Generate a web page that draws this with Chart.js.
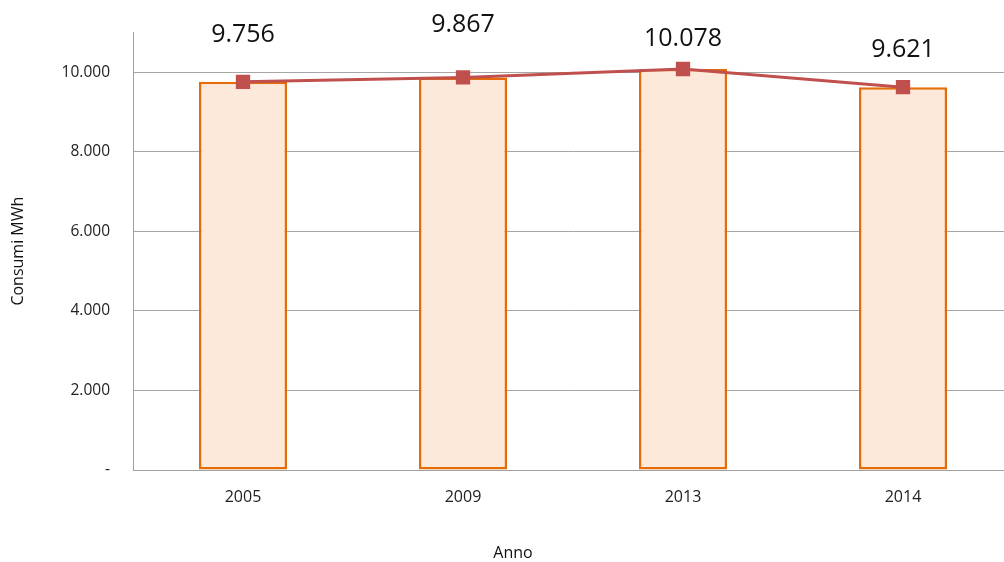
<!DOCTYPE html>
<html>
<head>
<meta charset="utf-8">
<script src="https://cdn.jsdelivr.net/npm/chart.js@4"></script>
<style>
  html, body { margin: 0; padding: 0; background: #fff; overflow: hidden; }
  #wrap { width: 1024px; height: 562px; position: relative; }
</style>
</head>
<body>
<div id="wrap"><canvas id="chart"></canvas></div>
<script>
  var years = ['2005', '2009', '2013', '2014'];
  var consumi = [9756, 9867, 10078, 9621];
  var yTicks = [0, 2000, 4000, 6000, 8000, 10000];
  var xTitle = 'Anno';
  var yTitle = 'Consumi MWh';

  var FONT = "'Open Sans', sans-serif";

  function fmt(v) {
    if (v === 0) return '-';
    return v.toString().replace(/\B(?=(\d{3})+(?!\d))/g, '.');
  }

  // value labels above the markers + x axis title (not centred on the plot in the original)
  var extraText = {
    id: 'extraText',
    afterDatasetsDraw: function(chart) {
      var ctx = chart.ctx;
      var meta = chart.getDatasetMeta(1);
      var nudge = [47, 53, 30, 37];
      ctx.save();
      ctx.font = '25px ' + FONT;
      ctx.fillStyle = '#111';
      ctx.textAlign = 'center';
      ctx.textBaseline = 'middle';
      meta.data.forEach(function(pt, i) {
        ctx.fillText(fmt(consumi[i]), pt.x, pt.y - nudge[i]);
      });
      ctx.font = '16px ' + FONT;
      ctx.fillText(xTitle, 513, 553);
      ctx.restore();
    }
  };

  new Chart(document.getElementById('chart'), {
    data: {
      labels: years,
      datasets: [{
        type: 'bar',
        data: consumi,
        backgroundColor: '#FDE9D9',
        borderColor: '#E46C0A',
        borderWidth: 2.5,
        borderSkipped: false,
        categoryPercentage: 1,
        barPercentage: 0.4,
        order: 2
      }, {
        type: 'line',
        data: consumi,
        borderColor: '#C0504D',
        borderWidth: 3,
        pointStyle: 'rect',
        pointRadius: 8,
        pointBackgroundColor: '#C0504D',
        pointBorderColor: '#C0504D',
        tension: 0,
        order: 1
      }]
    },
    options: {
      responsive: true,
      maintainAspectRatio: false,
      animation: false,
      layout: { autoPadding: false, padding: { top: 30, right: 11, left: 0, bottom: 0 } },
      plugins: {
        legend: { display: false },
        tooltip: { enabled: false }
      },
      scales: {
        x: {
          offset: true,
          grid: { display: false, drawTicks: false },
          border: { color: '#A0A0A0', width: 1 },
          ticks: { color: '#222', font: { family: FONT, size: 16 }, padding: 18 },
          afterFit: function(s) { s.height = 92; }
        },
        y: {
          min: 0,
          max: 11000,
          afterBuildTicks: function(s) {
            s.ticks = yTicks.map(function(v) { return { value: v }; });
          },
          grid: { color: '#A6A6A6', drawTicks: false },
          border: { color: '#A0A0A0', width: 1 },
          ticks: {
            color: '#222', font: { family: FONT, size: 15.5 }, padding: 23,
            callback: function(v) { return fmt(v); }
          },
          title: {
            display: true, text: yTitle, color: '#111',
            font: { family: FONT, size: 16 }, padding: { top: 9, bottom: 0 }
          },
          afterFit: function(s) { s.width = 133; }
        }
      }
    },
    plugins: [extraText]
  });
</script>
</body>
</html>
